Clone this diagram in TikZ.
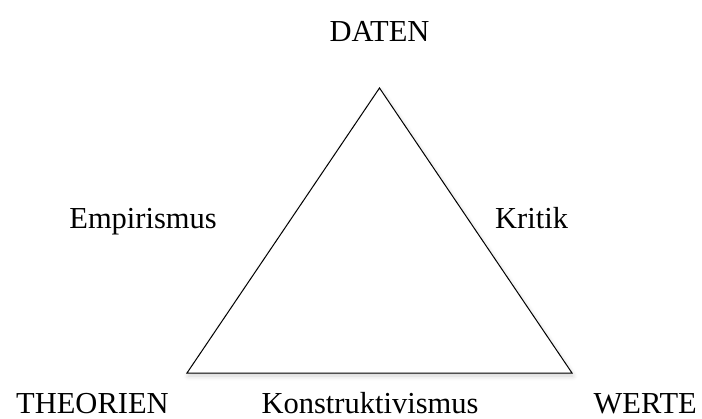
\documentclass[tikz,border=0pt]{standalone}
\usepackage{fontspec}
\setmainfont{Liberation Serif}
\usetikzlibrary{shadows.blur}
\begin{document}
\begin{tikzpicture}[x=1pt,y=-1pt,
  lbl/.style={anchor=base,inner sep=0pt,text depth=0pt,font=\fontsize{30.5}{36}\selectfont},
  tri/.style={draw=black,line width=1pt,line join=miter,fill=white,
    blur shadow={shadow xshift=1pt,shadow yshift=-3pt,shadow blur steps=8,shadow opacity=18,shadow blur radius=5pt}}]
  \useasboundingbox (0,0) rectangle (702,418);
  % corners of the triangle
  \coordinate (top) at (379.5,88);
  \coordinate (left) at (187,373);
  \coordinate (right) at (572,373);
  \path[tri] (top) -- (right) -- (left) -- cycle;
  % labels
  \node[lbl] (daten) at (379.5,41) {DATEN};
  \node[lbl,anchor=base east] (emp) at (217,228) {Empirismus};
  \node[lbl,anchor=base west] (krit) at (495,228) {Kritik};
  \node[lbl,anchor=base west] (theo) at (16,413) {THEORIEN};
  \node[lbl] (konst) at (370,413) {Konstruktivismus};
  \node[lbl,anchor=base east] (werte) at (697,413) {WERTE};
\end{tikzpicture}
\end{document}
